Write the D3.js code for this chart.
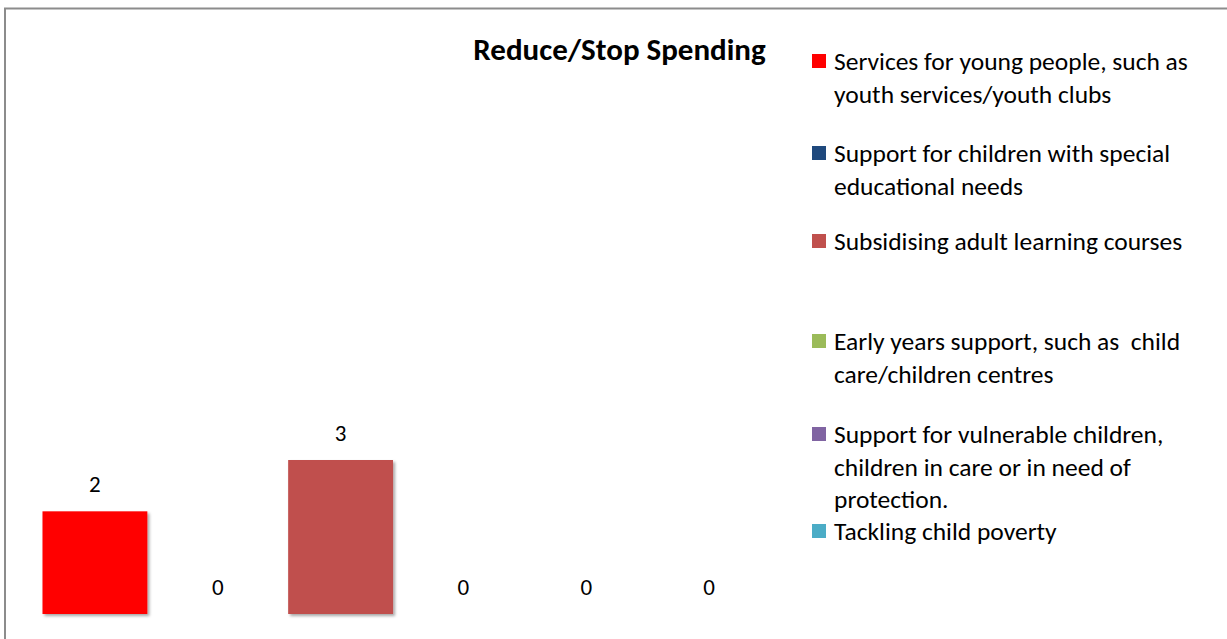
<!DOCTYPE html>
<html>
<head>
<meta charset="utf-8">
<script src="https://cdn.jsdelivr.net/npm/d3@7"></script>
<style>
  html, body { margin: 0; padding: 0; background: #fff; }
  svg { display: block; }
  text { font-family: Carlito, Lato, "Open Sans", sans-serif; fill: #000; }
</style>
</head>
<body>
<svg id="chart" width="1227" height="639"></svg>
<script>
// Spending categories and number of responses for each
const categories = [
  "Services for young people, such as youth services/youth clubs",
  "Support for children with special educational needs",
  "Subsidising adult learning courses",
  "Early years support, such as  child care/children centres",
  "Support for vulnerable children, children in care or in need of protection.",
  "Tackling child poverty"
];
const values = [2, 0, 3, 0, 0, 0];
const colors = ["#FF0000", "#1F497D", "#C0504D", "#9BBB59", "#8064A2", "#4BACC6"];
const legendLines = [
  ["Services for young people, such as", "youth services/youth clubs"],
  ["Support for children with special", "educational needs"],
  ["Subsidising adult learning courses"],
  ["Early years support, such as  child", "care/children centres"],
  ["Support for vulnerable children,", "children in care or in need of", "protection."],
  ["Tackling child poverty"]
];
const legendTops = [70, 162, 250, 350, 443, 540];
const title = "Reduce/Stop Spending";

const svg = d3.select("#chart");

// soft shadow under the bars
const defs = svg.append("defs");
const f = defs.append("filter").attr("id", "shadow")
  .attr("x", "-10%").attr("y", "-10%").attr("width", "130%").attr("height", "130%");
f.append("feDropShadow").attr("dx", 2).attr("dy", 2).attr("stdDeviation", 1.6)
  .attr("flood-color", "#000").attr("flood-opacity", 0.35);

// frame: top and left edges
svg.append("line").attr("x1", 4).attr("x2", 1227).attr("y1", 8.5).attr("y2", 8.5)
  .attr("stroke", "#8c8c8c").attr("stroke-width", 2);
svg.append("line").attr("x1", 5).attr("x2", 5).attr("y1", 8).attr("y2", 639)
  .attr("stroke", "#8c8c8c").attr("stroke-width", 2);

// title
svg.append("text").attr("x", 619.5).attr("y", 60)
  .attr("text-anchor", "middle").attr("font-weight", "bold")
  .attr("font-size", 31).text(title);

// scales
const pad = 1 - 105 / 123;
const x = d3.scaleBand().domain(d3.range(categories.length))
  .range([33.5, 770.5]).paddingInner(pad).paddingOuter(pad / 2);
const y = d3.scaleLinear().domain([0, 3]).range([614, 460]);

const g = svg.append("g");
g.selectAll("rect.bar").data(values).join("rect")
  .attr("class", "bar")
  .attr("x", (d, i) => x(i))
  .attr("y", d => y(d))
  .attr("width", x.bandwidth())
  .attr("height", d => y(0) - y(d))
  .attr("fill", (d, i) => colors[i])
  .attr("filter", "url(#shadow)");

g.selectAll("text.val").data(values).join("text")
  .attr("class", "val")
  .attr("x", (d, i) => x(i) + x.bandwidth() / 2)
  .attr("y", d => y(d) - 19)
  .attr("text-anchor", "middle")
  .attr("font-size", 23)
  .text(d => d);

// legend
const leg = svg.append("g");
legendLines.forEach((lines, i) => {
  const top = legendTops[i];
  leg.append("rect").attr("x", 812).attr("y", top - 16)
    .attr("width", 14).attr("height", 14).attr("fill", colors[i]);
  const t = leg.append("text").attr("x", 834).attr("y", top).attr("font-size", 25.5);
  lines.forEach((ln, j) => {
    t.append("tspan").attr("x", 834).attr("y", top + j * 32.5)
      .attr("xml:space", "preserve").text(ln);
  });
});
</script>
</body>
</html>
